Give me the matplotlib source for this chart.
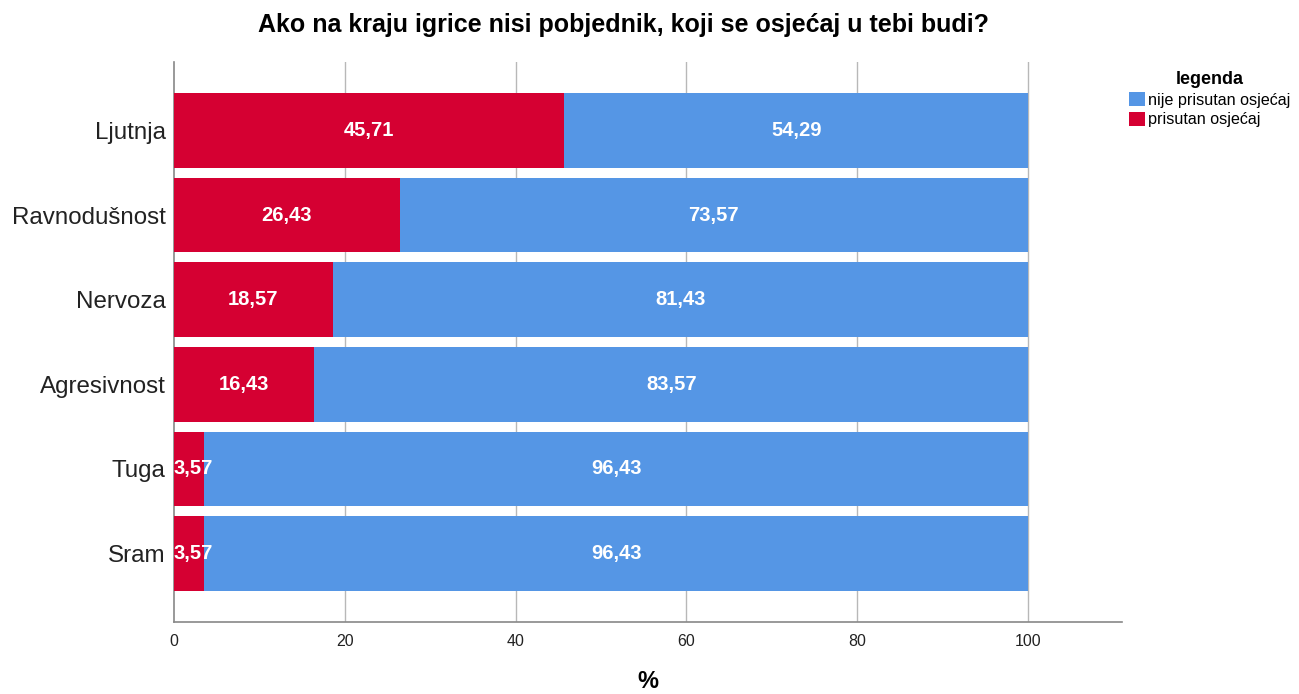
import matplotlib
matplotlib.use("Agg")
import matplotlib.pyplot as plt
from matplotlib.patches import Patch

categories = ["Ljutnja", "Ravnodušnost", "Nervoza", "Agresivnost", "Tuga", "Sram"]
prisutan = [45.71, 26.43, 18.57, 16.43, 3.57, 3.57]
nije_prisutan = [54.29, 73.57, 81.43, 83.57, 96.43, 96.43]
series_names = ["nije prisutan osjećaj", "prisutan osjećaj"]
xticks = [0, 20, 40, 60, 80, 100]

RED = "#d50032"
BLUE = "#5596e5"

plt.rcParams['font.family'] = ['Liberation Sans', 'DejaVu Sans']

fig = plt.figure(figsize=(12.99, 6.94), dpi=100)
ax = fig.add_axes([174/1299, 1 - 622/694, (1122-174)/1299, (622-62)/694])

y = list(range(len(categories)))
h = 0.88
ax.barh(y, prisutan, height=h, color=RED, zorder=3)
ax.barh(y, nije_prisutan, left=prisutan, height=h, color=BLUE, zorder=3)

lab_font = dict(color="white", fontweight="bold", fontsize=14.5, zorder=4)
for i, (p, n) in enumerate(zip(prisutan, nije_prisutan)):
    txt_p = f"{p:.2f}".replace(".", ",")
    txt_n = f"{n:.2f}".replace(".", ",")
    if p < 8:
        ax.text(0.0, i, txt_p, ha="left", va="center", **lab_font)
    else:
        ax.text(p / 2, i, txt_p, ha="center", va="center", **lab_font)
    ax.text(p + n / 2, i, txt_n, ha="center", va="center", **lab_font)

ax.set_xlim(0, 111)
ax.set_ylim(5.81, -0.81)
ax.set_yticks(y)
ax.set_yticklabels(categories, fontsize=17.4, color="#222222")
ax.set_xticks(xticks)
ax.set_xticklabels([str(t) for t in xticks], fontsize=11.5, color="#222222")
ax.tick_params(length=0, pad=9)
ax.tick_params(axis='y', pad=6)

for xt in xticks[1:]:
    ax.axvline(xt, color="#b8b8b8", linewidth=1.0, zorder=1)

for s in ["top", "right"]:
    ax.spines[s].set_visible(False)
for s in ["left", "bottom"]:
    ax.spines[s].set_color("#888888")
    ax.spines[s].set_linewidth(1.2)

fig.text(648 / 1299, 1 - 682/694, "%", ha="center", va="center",
         fontsize=17, fontweight="bold")
fig.text(0.5 * (258 + 990) / 1299, 1 - 25/694,
         "Ako na kraju igrice nisi pobjednik, koji se osjećaj u tebi budi?",
         ha="center", va="center", fontsize=18, fontweight="bold")

handles = [Patch(facecolor=BLUE, label=series_names[0]),
           Patch(facecolor=RED, label=series_names[1])]
leg = fig.legend(handles=handles, title="legenda", loc="upper left",
                 bbox_to_anchor=(1116/1299, 1 - 58/694), frameon=False,
                 fontsize=11.6, title_fontproperties={'weight': 'bold', 'size': 13},
                 handlelength=1.0, handleheight=1.0, handletextpad=0.2,
                 labelspacing=0.25, borderpad=0.3)

fig.savefig("out.png", dpi=100)
